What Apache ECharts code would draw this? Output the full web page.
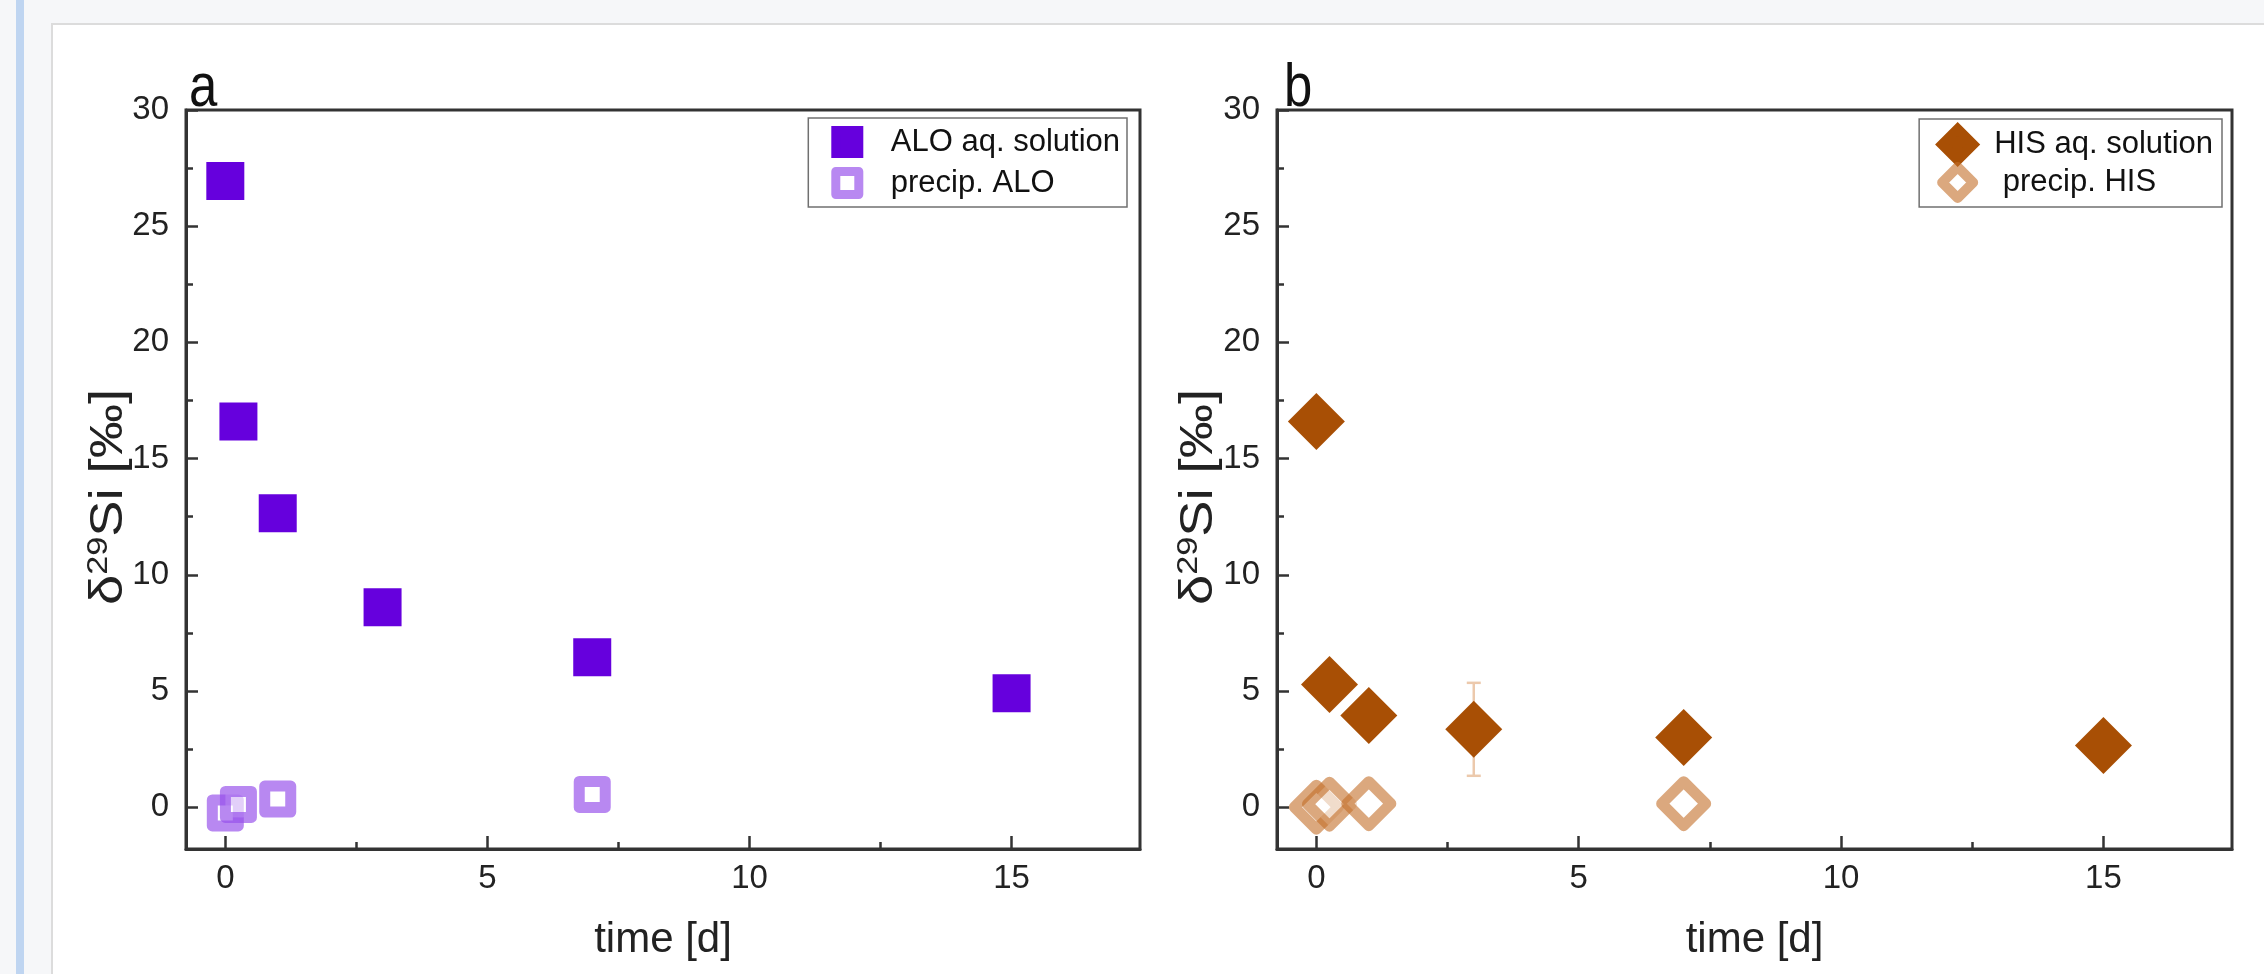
<!DOCTYPE html>
<html>
<head>
<meta charset="utf-8" />
<title>d29Si vs time</title>
<script src="https://cdn.jsdelivr.net/npm/echarts@6/dist/echarts.min.js"></script>
<style>
  html, body { margin: 0; padding: 0; background: #f6f7f9; }
  #stripe { position: absolute; left: 16px; top: 0; width: 8px; height: 974px; background: #bfd5f1; }
  #panel { position: absolute; left: 51px; top: 23px; width: 2213px; height: 951px;
           background: #fff; border-left: 2px solid #dcdcdc; border-top: 2px solid #dcdcdc; }
  #main { position: absolute; left: 0; top: 0; width: 2264px; height: 974px; }
</style>
</head>
<body>
<div id="stripe"></div>
<div id="panel"></div>
<div id="main"></div>
<script type="text/javascript">
// panel a : ALO
var timeAloSol = [0, 0.25, 1, 3, 7, 15];
var aloSol = [26.95, 16.6, 12.65, 8.6, 6.45, 4.9];
var timeAloPrec = [0, 0.25, 1, 7];
var aloPrec = [-0.25, 0.12, 0.35, 0.55];

// panel b : HIS
var timeHisSol = [0, 0.25, 1, 3, 7, 15];
var hisSol = [16.6, 5.28, 3.95, 3.35, 3.0, 2.65];
var hisErr = [0, 0, 0, 2.0, 0, 0];
var timeHisPrec = [0, 0.25, 1, 7];
var hisPrec = [0.0, 0.13, 0.15, 0.15];

var xMajor = [0, 5, 10, 15];
var xMinor = [2.5, 7.5, 12.5];
var yMajor = [0, 5, 10, 15, 20, 25, 30];
var yMinor = [2.5, 7.5, 12.5, 17.5, 22.5, 27.5];

var FONT = 'Liberation Sans, Arial, sans-serif';
var X_MIN = -0.75, X_MAX = 17.45, Y_MIN = -1.8, Y_MAX = 30;

function pairs(xs, ys) {
  return xs.map(function (x, i) { return [x, ys[i]]; });
}

var myChart = echarts.init(document.getElementById('main'));

// tick-only axis (no line, no labels)
function tickAxis(g, isX, vals, len) {
  return {
    gridIndex: g, type: 'value',
    min: isX ? X_MIN : Y_MIN, max: isX ? X_MAX : Y_MAX,
    position: isX ? 'bottom' : 'left',
    axisLine: { show: false, onZero: false },
    axisTick: { show: true, inside: true, length: len, customValues: vals, lineStyle: { color: '#333', width: 2.5 } },
    axisLabel: { show: false },
    splitLine: { show: false }
  };
}

function xAxes(g) {
  return [
    {
      gridIndex: g, type: 'value', min: X_MIN, max: X_MAX,
      axisLine: { onZero: false, lineStyle: { color: '#333', width: 3 } },
      axisTick: { show: false },
      axisLabel: { customValues: xMajor, fontSize: 33, margin: 13, color: '#222', fontFamily: FONT },
      splitLine: { show: false },
      name: 'time [d]', nameLocation: 'middle', nameGap: 70,
      nameTextStyle: { fontSize: 42, color: '#222', fontFamily: FONT }
    },
    tickAxis(g, true, xMajor, 13),
    tickAxis(g, true, xMinor, 7)
  ];
}

function yAxes(g) {
  return [
    {
      gridIndex: g, type: 'value', min: Y_MIN, max: Y_MAX,
      axisLine: { show: true, onZero: false, lineStyle: { color: '#333', width: 3 } },
      axisTick: { show: false },
      axisLabel: { customValues: yMajor, fontSize: 33, margin: 17, color: '#222', fontFamily: FONT },
      splitLine: { show: false }
    },
    tickAxis(g, false, yMajor, 12),
    tickAxis(g, false, yMinor, 7)
  ];
}

// rotated y title, drawn as graphic so it can be stretched like the original
function yTitle(cx) {
  return {
    type: 'text', x: cx, y: 497, rotation: Math.PI / 2, scaleX: 1.18, z: 100,
    style: {
      text: '{t|δ}{s|29}{t|Si [‰]}',
      align: 'center', verticalAlign: 'middle', textAlign: 'center', textVerticalAlign: 'middle',
      rich: {
        t: { fontSize: 46, fontFamily: FONT, fill: '#222', color: '#222' },
        s: { fontSize: 29, fontFamily: FONT, fill: '#222', color: '#222', padding: [0, 0, 20, 0] }
      }
    }
  };
}

var legendText = { fontSize: 31, color: '#111', fontFamily: FONT, lineHeight: 32 };

option = {
  animation: false,
  backgroundColor: 'transparent',
  textStyle: { fontFamily: FONT },
  grid: [
    { left: 186, top: 110, width: 954, height: 739, show: true, borderColor: '#333', borderWidth: 3, backgroundColor: 'transparent' },
    { left: 1277, top: 110, width: 955, height: 739, show: true, borderColor: '#333', borderWidth: 3, backgroundColor: 'transparent' }
  ],
  xAxis: xAxes(0).concat(xAxes(1)),
  yAxis: yAxes(0).concat(yAxes(1)),
  legend: [
    {
      orient: 'vertical', right: 1137, top: 118,
      padding: [8, 7, 8, 23], itemGap: 9, itemWidth: 23, itemHeight: 23,
      borderColor: '#707070', borderWidth: 1.5, backgroundColor: '#fff',
      textStyle: Object.assign({ padding: [0, 0, 0, 27] }, legendText),
      data: [
        { name: 'ALO aq. solution', itemStyle: { borderColor: '#6600dd', borderWidth: 9 } },
        { name: 'precip. ALO', itemStyle: { borderWidth: 9 } }
      ]
    },
    {
      orient: 'vertical', right: 42, top: 119,
      padding: [5, 9, 4, 18], itemGap: -3, itemWidth: 31, itemHeight: 31,
      borderColor: '#707070', borderWidth: 1.5, backgroundColor: '#fff',
      textStyle: Object.assign({ padding: [0, 0, 0, 16] }, legendText),
      data: [
        { name: 'HIS aq. solution', itemStyle: { borderColor: '#a84f05', borderWidth: 10 } },
        { name: ' precip. HIS', itemStyle: { borderWidth: 10 } }
      ]
    }
  ],
  graphic: [
    { type: 'text', left: 189, top: 58, scaleX: 0.82, z: 100,
      style: { text: 'a', font: '62px ' + FONT, fill: '#111' } },
    { type: 'text', left: 1284, top: 58, scaleX: 0.82, z: 100,
      style: { text: 'b', font: '62px ' + FONT, fill: '#111' } },
    yTitle(109),
    yTitle(1199)
  ],
  series: [
    {
      name: 'ALO aq. solution', type: 'scatter', xAxisIndex: 0, yAxisIndex: 0,
      symbol: 'rect', symbolSize: 38,
      itemStyle: { color: '#6600dd', opacity: 1 },
      data: pairs(timeAloSol, aloSol)
    },
    {
      name: 'precip. ALO', type: 'scatter', xAxisIndex: 0, yAxisIndex: 0,
      symbol: 'rect', symbolSize: 26,
      itemStyle: { color: 'rgba(255,255,255,0.6)', borderColor: 'rgba(150,80,235,0.68)', borderWidth: 11, borderJoin: 'round', opacity: 1 },
      data: pairs(timeAloPrec, aloPrec)
    },
    {
      name: 'HIS error', type: 'custom', xAxisIndex: 3, yAxisIndex: 3,
      renderItem: function (params, api) {
        var e = api.value(2);
        if (!e) return;
        var x = api.value(0), y = api.value(1);
        var hi = api.coord([x, y + e]);
        var lo = api.coord([x, y - e]);
        var c = 7;
        var st = { stroke: '#ecc9ac', lineWidth: 2.5 };
        return {
          type: 'group',
          children: [
            { type: 'line', shape: { x1: hi[0], y1: hi[1], x2: lo[0], y2: lo[1] }, style: st },
            { type: 'line', shape: { x1: hi[0] - c, y1: hi[1], x2: hi[0] + c, y2: hi[1] }, style: st },
            { type: 'line', shape: { x1: lo[0] - c, y1: lo[1], x2: lo[0] + c, y2: lo[1] }, style: st }
          ]
        };
      },
      data: timeHisSol.map(function (x, i) { return [x, hisSol[i], hisErr[i]]; })
    },
    {
      name: 'HIS aq. solution', type: 'scatter', xAxisIndex: 3, yAxisIndex: 3,
      symbol: 'diamond', symbolSize: 57,
      itemStyle: { color: '#a84f05', opacity: 1 },
      data: pairs(timeHisSol, hisSol)
    },
    {
      name: ' precip. HIS', type: 'scatter', xAxisIndex: 3, yAxisIndex: 3,
      symbol: 'diamond', symbolSize: 44,
      itemStyle: { color: 'rgba(255,255,255,0.6)', borderColor: 'rgba(195,110,40,0.6)', borderWidth: 11, borderJoin: 'round', opacity: 1 },
      data: pairs(timeHisPrec, hisPrec)
    }
  ]
};
myChart.setOption(option);
</script>
</body>
</html>
